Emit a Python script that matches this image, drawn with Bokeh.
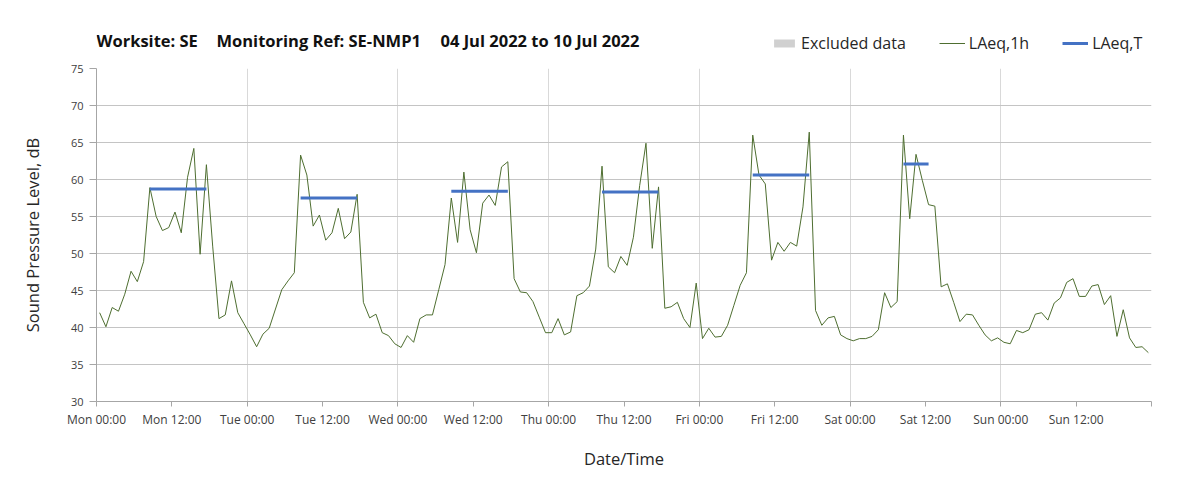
from bokeh.plotting import figure
from bokeh.layouts import column
from bokeh.models import (ColumnDataSource, FixedTicker, Legend, LegendItem, Range1d, Label)
from bokeh.embed import file_html
from bokeh.resources import INLINE

# ---- data ----
hours = list(range(168))  # hours since Mon 04 Jul 2022 00:00
laeq_1h = [
    42.0, 40.1, 42.7, 42.2, 44.5, 47.6, 46.2, 48.9, 58.9, 55.0, 53.1, 53.5,
    55.6, 52.8, 60.3, 64.2, 49.9, 62.0, 51.0, 41.2, 41.7, 46.3, 42.0, 40.5,
    39.0, 37.4, 39.1, 39.9, 42.5, 45.1, 46.3, 47.4, 63.3, 60.6, 53.7, 55.2,
    51.8, 52.8, 56.1, 52.0, 52.9, 58.0, 43.4, 41.3, 41.8, 39.3, 38.9, 37.8,
    37.3, 38.9, 38.0, 41.2, 41.7, 41.7, 45.1, 48.5, 57.5, 51.5, 61.0, 53.2,
    50.1, 56.8, 57.9, 56.5, 61.7, 62.4, 46.6, 44.8, 44.7, 43.5, 41.4, 39.3,
    39.3, 41.2, 39.0, 39.4, 44.3, 44.7, 45.6, 50.6, 61.8, 48.2, 47.4, 49.6,
    48.4, 52.2, 59.2, 64.9, 50.7, 59.0, 42.6, 42.8, 43.4, 41.2, 40.0, 46.0,
    38.5, 39.9, 38.7, 38.8, 40.3, 43.0, 45.7, 47.4, 66.0, 60.6, 59.4, 49.1,
    51.5, 50.3, 51.5, 51.0, 56.3, 66.4, 42.3, 40.3, 41.3, 41.5, 39.0, 38.5,
    38.2, 38.5, 38.5, 38.8, 39.7, 44.7, 42.7, 43.5, 66.0, 54.7, 63.4, 59.9,
    56.6, 56.4, 45.5, 45.9, 43.4, 40.8, 41.8, 41.7, 40.3, 39.0, 38.2, 38.6,
    38.0, 37.8, 39.6, 39.3, 39.7, 41.8, 42.0, 41.0, 43.3, 44.0, 46.1, 46.6,
    44.2, 44.2, 45.6, 45.8, 43.1, 44.3, 38.8, 42.4, 38.6, 37.3, 37.4, 36.6,
]
period_start = [8, 32, 56, 80, 104, 128]
period_end = [17, 41, 65, 89, 113, 132]
laeq_t = [58.7, 57.5, 58.4, 58.3, 60.6, 62.1]

tick_hours = [0, 12, 24, 36, 48, 60, 72, 84, 96, 108, 120, 132, 144, 156]
tick_labels = ["Mon 00:00", "Mon 12:00", "Tue 00:00", "Tue 12:00", "Wed 00:00",
               "Wed 12:00", "Thu 00:00", "Thu 12:00", "Fri 00:00", "Fri 12:00",
               "Sat 00:00", "Sat 12:00", "Sun 00:00", "Sun 12:00"]
y_ticks = [30, 35, 40, 45, 50, 55, 60, 65, 70, 75]

title_parts = ["Worksite: SE", "Monitoring Ref: SE-NMP1", "04 Jul 2022 to 10 Jul 2022"]
legend_labels = ["Excluded data", "LAeq,1h", "LAeq,T"]

FONT = "Open Sans"
GREEN = "#4e6e30"
BLUE = "#4472c4"
GREY_FILL = "#d0d0d0"

# page-pixel geometry of the plot frame
F_LEFT, F_RIGHT = 96, 1151

# ---- header (title + legend); its frame is aligned with the main frame ----
HEAD_H = 60
head = figure(width=1195, height=HEAD_H, output_backend="svg", toolbar_location=None,
              x_range=Range1d(F_LEFT, F_RIGHT), y_range=Range1d(0, HEAD_H),
              min_border=0, x_axis_location=None, y_axis_location=None)
head.outline_line_color = None
head.grid.visible = False
head.background_fill_color = "white"
head.border_fill_color = "white"

for txt, px in zip(title_parts, [96, 216, 440]):
    head.add_layout(Label(x=px, y=HEAD_H - 40, text=txt, text_font=FONT,
                          text_font_style="bold", text_font_size="16.5px",
                          text_color="#111111", text_baseline="middle"))

# legend proxies (no data drawn; only their styles appear in the key)
nan = float("nan")
k_excl = head.quad(left=[nan], right=[nan], top=[nan], bottom=[nan],
                   fill_color=GREY_FILL, line_color=None)
k_line = head.line(x=[nan, nan], y=[nan, nan], line_color=GREEN, line_width=1)
k_seg = head.line(x=[nan, nan], y=[nan, nan], line_color=BLUE, line_width=3)

legend = Legend(items=[LegendItem(label=legend_labels[0], renderers=[k_excl]),
                       LegendItem(label=legend_labels[1], renderers=[k_line]),
                       LegendItem(label=legend_labels[2], renderers=[k_seg])],
                orientation="horizontal", location=(771 - F_LEFT, 6),
                border_line_color=None, background_fill_alpha=0,
                padding=0, margin=0, spacing=33, glyph_width=26,
                glyph_height=10, label_standoff=4,
                label_text_font=FONT, label_text_font_size="16px",
                label_text_color="#262626", label_height=18)
head.add_layout(legend)

# ---- main chart ----
p = figure(width=1195, height=486 - HEAD_H, output_backend="svg", toolbar_location=None,
           x_range=Range1d(0, 168), y_range=Range1d(30, 75),
           min_border_left=F_LEFT, min_border_right=1195 - F_RIGHT,
           min_border_top=68 - HEAD_H, min_border_bottom=85)
p.outline_line_color = None
p.background_fill_color = "white"
p.border_fill_color = "white"

# grids
p.xgrid.ticker = FixedTicker(ticks=list(range(0, 169, 24)))
p.xgrid.grid_line_color = "#d9d9d9"
p.ygrid.ticker = FixedTicker(ticks=y_ticks)
p.ygrid.grid_line_color = "#c4c4c4"

# x axis
xa = p.xaxis[0]
xa.ticker = FixedTicker(ticks=tick_hours + [168])
overrides = {h: lab for h, lab in zip(tick_hours, tick_labels)}
overrides[168] = ""
xa.major_label_overrides = overrides
xa.axis_line_color = "#a6a6a6"
xa.major_tick_line_color = "#a6a6a6"
xa.major_tick_out = 5
xa.major_tick_in = 0
xa.minor_tick_line_color = None
xa.major_label_text_font = FONT
xa.major_label_text_font_size = "12px"
xa.major_label_text_color = "#404040"
xa.major_label_standoff = 4
xa.axis_label = "Date/Time"
xa.axis_label_text_font = FONT
xa.axis_label_text_font_size = "16.5px"
xa.axis_label_text_font_style = "normal"
xa.axis_label_text_color = "#262626"
xa.axis_label_standoff = 16

# y axis
ya = p.yaxis[0]
ya.ticker = FixedTicker(ticks=y_ticks)
ya.axis_line_color = "#a6a6a6"
ya.major_tick_line_color = "#a6a6a6"
ya.major_tick_out = 7
ya.major_tick_in = 0
ya.minor_tick_line_color = None
ya.major_label_text_font = FONT
ya.major_label_text_font_size = "11px"
ya.major_label_text_color = "#404040"
ya.major_label_standoff = 6
ya.axis_label = "Sound Pressure Level, dB"
ya.axis_label_text_font = FONT
ya.axis_label_text_font_size = "16.5px"
ya.axis_label_text_font_style = "normal"
ya.axis_label_text_color = "#262626"
ya.axis_label_standoff = 24

# ---- glyphs ----
src = ColumnDataSource(dict(x=[h + 0.5 for h in hours], y=laeq_1h))
p.line("x", "y", source=src, line_color=GREEN, line_width=1)

seg_src = ColumnDataSource(dict(x0=[s + 0.5 for s in period_start],
                                x1=[e + 0.5 for e in period_end],
                                y=laeq_t))
p.segment(x0="x0", y0="y", x1="x1", y1="y", source=seg_src,
          line_color=BLUE, line_width=3)

layout = column(head, p, spacing=0)
open("out.html", "w").write(file_html(layout, INLINE))
